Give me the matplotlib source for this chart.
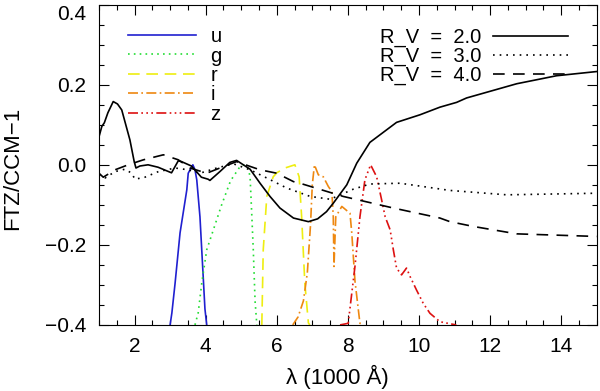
import matplotlib
matplotlib.use("Agg")
import matplotlib.pyplot as plt
from matplotlib.ticker import MultipleLocator, FuncFormatter

# FTZ/CCM-1 ratio curves for three R_V values
rv2_x = [1.00, 1.08, 1.15, 1.25, 1.40, 1.52, 1.64, 1.87, 1.99, 2.04, 2.15, 2.38, 2.66, 3.04,
         3.23, 3.32, 3.60, 3.88, 4.07, 4.12, 4.40, 4.68, 4.87, 5.25, 5.53, 5.81, 6.09, 6.47,
         6.89, 7.15, 7.40, 7.59, 7.97, 8.25, 8.62, 9.37, 10.03, 10.59, 11.06, 11.34, 12.75,
         13.87, 15.00]
rv2_y = [0.070, 0.096, 0.105, 0.130, 0.158, 0.152, 0.137, 0.062, 0.008, -0.008, -0.003, 0.000,
         -0.006, -0.020, 0.010, 0.008, -0.003, -0.031, -0.036, -0.039, -0.017, 0.006, 0.011,
         -0.011, -0.046, -0.079, -0.108, -0.133, -0.142, -0.135, -0.117, -0.096, -0.050, 0.004,
         0.056, 0.106, 0.125, 0.144, 0.156, 0.167, 0.2025, 0.2225, 0.233]

rv3_x = [1.00, 1.17, 1.45, 1.73, 1.92, 2.01, 2.29, 2.67, 3.14, 3.51, 3.84, 4.31, 4.78, 5.25,
         5.72, 6.28, 6.94, 7.50, 7.69, 8.15, 8.62, 9.47, 10.87, 12.47, 15.00]
rv3_y = [-0.025, -0.033, -0.017, -0.011, -0.021, -0.036, -0.031, -0.017, -0.008, -0.0125,
         -0.021, -0.008, 0.0025, -0.0125, -0.033, -0.058, -0.079, -0.086, -0.079, -0.061,
         -0.048, -0.046, -0.064, -0.075, -0.071]

rv4_x = [1.00, 1.12, 1.45, 1.82, 2.25, 2.81, 3.23, 3.56, 4.03, 4.40, 4.87, 5.25, 5.53, 6.00,
         6.47, 6.65, 7.50, 7.87, 9.28, 10.59, 10.87, 11.53, 12.75, 15.00]
rv4_y = [-0.021, -0.031, -0.0125, 0.000, 0.0125, 0.025, 0.0125, -0.008, -0.021, -0.008, 0.008,
         -0.004, -0.0125, -0.021, -0.042, -0.046, -0.069, -0.079, -0.108, -0.133, -0.142,
         -0.154, -0.1725, -0.179]

# SDSS filter curves (scaled: peak at 0, base at -0.4)
u_x = [3.00, 3.05, 3.14, 3.28, 3.47, 3.51, 3.64, 3.70, 3.75, 3.84, 3.98, 4.03]
u_y = [-0.40, -0.37, -0.296, -0.17, -0.0625, -0.021, 0.0, -0.0125, -0.0375, -0.13, -0.36, -0.40]

g_x = [3.70, 3.79, 3.89, 4.03, 4.45, 4.70, 4.97, 5.06, 5.20, 5.25, 5.30, 5.34, 5.39, 5.44]
g_y = [-0.40, -0.37, -0.296, -0.2125, -0.10, -0.04, -0.004, 0.0, -0.01, -0.03, -0.13,
       -0.2125, -0.34, -0.40]

r_x = [5.58, 5.62, 5.72, 5.90, 6.00, 6.23, 6.51, 6.63, 6.70, 6.79, 6.89, 6.93]
r_y = [-0.40, -0.2125, -0.079, -0.03, -0.02, -0.008, 0.0, -0.03, -0.13, -0.296, -0.395, -0.40]

i_x = [6.45, 6.60, 6.75, 6.86, 6.95, 7.00, 7.06, 7.17, 7.31, 7.45, 7.55, 7.59, 7.61, 7.66,
       7.83, 8.06, 8.11, 8.20, 8.34, 8.45]
i_y = [-0.40, -0.38, -0.34, -0.27, -0.15, -0.05, 0.0, -0.025, -0.03, -0.054, -0.067, -0.13,
       -0.254, -0.13, -0.104, -0.121, -0.17, -0.29, -0.396, -0.40]

z_x = [7.78, 8.01, 8.20, 8.34, 8.48, 8.64, 8.81, 8.95, 9.05, 9.19, 9.28, 9.37, 9.51, 9.65,
       9.75, 9.93, 10.12, 10.31, 10.59, 10.87, 11.05]
z_y = [-0.40, -0.396, -0.254, -0.13, -0.0375, 0.0, -0.03, -0.0875, -0.13, -0.1625, -0.2125,
       -0.258, -0.275, -0.258, -0.279, -0.3125, -0.346, -0.371, -0.392, -0.397, -0.40]

y_ticks = [-0.4, -0.2, 0.0, 0.2, 0.4]

plt.rcParams['font.family'] = ['Liberation Sans', 'DejaVu Sans']
plt.rcParams['font.size'] = 15

fig = plt.figure(figsize=(6, 3.91), dpi=100)
ax = fig.add_axes([0.165, 0.169, 0.8295, 0.819])

lw = 1.2
f_u, = ax.plot(u_x, u_y, color='#2020d0', lw=lw, ls='-', label='u')
f_g, = ax.plot(g_x, g_y, color='#22dd33', lw=lw, ls=(0, (1, 2.5)), label='g')
f_r, = ax.plot(r_x, r_y, color='#eeee11', lw=lw, ls=(0, (7, 4)), label='r')
f_i, = ax.plot(i_x, i_y, color='#ee8811', lw=lw, ls=(0, (6, 2, 1, 2)), label='i')
f_z, = ax.plot(z_x, z_y, color='#dd1111', lw=lw, ls=(0, (6, 2, 1, 2, 1, 2, 1, 2)), label='z')

c2, = ax.plot(rv2_x, rv2_y, color='black', lw=lw, ls='-', label='R_V  =  2.0')
c3, = ax.plot(rv3_x, rv3_y, color='black', lw=lw, ls=(0, (1, 3)), label='R_V  =  3.0')
c4, = ax.plot(rv4_x, rv4_y, color='black', lw=lw, ls=(0, (7, 5)), label='R_V  =  4.0')

ax.set_xlim(1, 15)
ax.set_ylim(-0.4, 0.4)
ax.xaxis.set_major_locator(MultipleLocator(2))
ax.xaxis.set_minor_locator(MultipleLocator(0.5))
ax.set_yticks(y_ticks)
ax.yaxis.set_minor_locator(MultipleLocator(0.05))
ax.yaxis.set_major_formatter(FuncFormatter(lambda v, p: f'{v:.1f}'.replace('-', '\u2212')))
ax.tick_params(which='both', direction='in', top=True, right=True, width=0.8)
ax.tick_params(which='major', length=7, pad=9)
ax.tick_params(which='minor', length=3.5)
# top label kept inside the figure, like the original
ax.yaxis.get_major_ticks()[-1].label1.set_verticalalignment('top')

ax.set_xlabel('λ (1000 Å)', fontsize=16)
ax.xaxis.set_label_coords(0.478, -0.125)
ax.set_ylabel('FTZ/CCM\u22121', fontsize=16)
ax.yaxis.set_label_coords(-0.153, 0.489)

leg1 = ax.legend(handles=[f_u, f_g, f_r, f_i, f_z], loc='upper left',
                 bbox_to_anchor=(0.058, 0.93), frameon=False, borderpad=0, fontsize=14.5,
                 borderaxespad=0, labelspacing=0.02, handlelength=3.4, handletextpad=0.7)
ax.add_artist(leg1)
ax.legend(handles=[c2, c3, c4], loc='upper right', bbox_to_anchor=(0.942, 0.928),
          frameon=False, borderpad=0, borderaxespad=0, labelspacing=0.0, fontsize=14.5,
          handlelength=3.7, handletextpad=0.6, markerfirst=False)

fig.savefig('out.png', dpi=100)
